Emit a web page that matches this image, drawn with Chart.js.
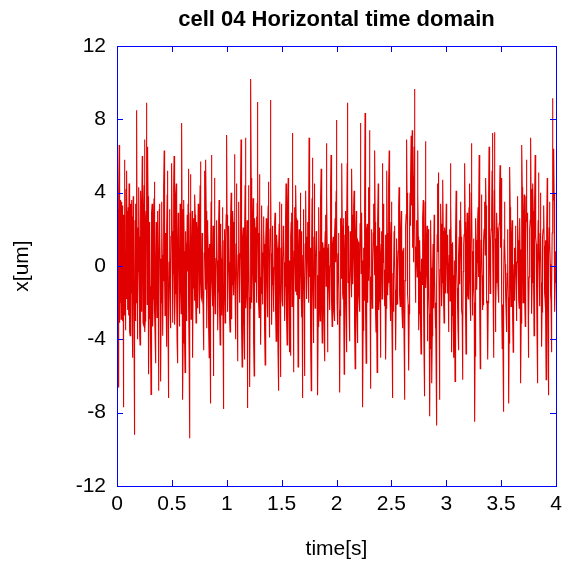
<!DOCTYPE html>
<html>
<head>
<meta charset="utf-8">
<script src="https://cdn.jsdelivr.net/npm/chart.js@4/dist/chart.umd.min.js"></script>
<style>
  html, body { margin: 0; padding: 0; background: #fff; }
  #wrap { width: 563px; height: 566px; }
</style>
</head>
<body>
<div id="wrap"><canvas id="myChart" width="563" height="566"></canvas></div>
<script>
let dt = 0.0025;
let xUm = [
  -1.2, 3.1, 0.9, -3.4, -6.6, -1.2, 1.4, 4.0, 6.6, 0.8, -3.1, 2.5, -2.0, 3.6, 2.2, -2.9, 3.5, -2.2, -0.6, 3.3, -3.0, -1.0, 2.8, -4.1, -7.7, 2.0, -1.9, 3.9, 5.8, -2.7, 0.4, -3.5, -1.5, 4.2, 3.3, -1.8, 5.2, 0.6, -2.4, 3.0,
  0.8, 3.2, -2.7, 1.1, 4.5, -2.4, 1.0, -3.6, -3.8, 1.9, -0.5, 3.4, 2.1, -1.5, 3.6, -2.1, -5.0, 2.7, -1.2, 3.8, 3.0, -0.9, -3.4, -4.5, -9.2, -2.2, 2.5, -3.0, 1.2, 3.4, -2.0, 4.0, 8.5, 2.1, -1.1, -4.0, -2.5, -0.3, 1.7, 3.5,
  4.3, 1.6, -0.8, -3.7, -4.3, -0.6, 2.6, 4.1, 1.8, -2.5, -2.2, 2.6, 6.0, 3.2, 0.7, -3.1, -3.2, 0.5, 2.9, 4.4, 6.9, 1.8, -3.6, -3.0, -1.4, 2.4, 3.0, 4.9, 8.9, 2.7, -2.1, 1.9, 6.5, 3.8, 0.3, -2.8, -5.9, -1.6, 2.4, -2.9,
  2.2, -1.1, -3.0, -4.4, -7.0, -2.6, 1.1, 2.9, 3.4, 1.4, -1.6, -3.3, -1.8, 1.0, 2.3, 3.7, 4.6, 1.2, -2.5, -4.0, -5.3, -2.1, 0.5, 2.4, 0.6, -1.5, -2.8, 0.9, 3.0, 2.6, -0.9, -3.9, -6.8, -1.8, 3.1, 3.4, 1.9, 0.4, -1.4, -3.6,
  -6.3, -2.0, 1.3, 3.5, 2.7, 0.6, -2.6, -3.8, -0.8, 1.5, 3.2, 4.3, 6.3, 2.2, -0.4, -2.7, -2.4, -0.5, 1.8, -1.9, -4.4, -0.7, 2.0, 3.9, 5.2, 1.0, -3.3, -4.6, -7.2, -2.8, 0.2, 2.5, 3.1, 0.7, -2.7, -3.4, -1.0, 1.6, 2.9, 3.8,
  5.6, 1.9, -1.0, -3.1, -2.9, -0.4, 2.4, 4.2, 6.0, 2.3, -0.7, -3.2, -1.5, 0.8, 2.8, 3.9, 4.5, 1.1, -2.0, -4.1, -5.3, -1.9, 0.9, 2.9, 2.0, 0.4, -1.2, -3.0, -3.3, -0.2, 3.4, 2.1, 1.1, -1.4, -2.6, 2.4, 7.8, 3.1, 0.1, -3.9,
  -7.3, -4.2, -1.5, 1.2, 3.6, 0.8, -2.4, -4.3, -5.8, -1.8, 1.9, 1.4, 0.9, -1.3, -3.0, -0.3, 2.8, 1.7, -0.3, 3.4, 5.3, 1.6, -2.2, -5.0, -9.4, -3.6, 0.8, 2.9, 5.0, 1.4, -2.9, -2.7, -1.7, 1.0, 3.0, -1.4, -5.0, -1.2, 1.5, 2.6,
  2.3, 0.3, -1.9, 1.5, 3.9, 2.8, 0.6, -1.6, -3.1, -0.4, 2.1, 2.4, 1.4, -0.9, -2.3, 1.0, 3.4, 2.5, 0.4, -1.3, -2.6, 0.2, 2.7, 4.4, 5.7, 2.6, -0.9, -1.7, -1.8, 0.1, 1.8, 1.6, 0.5, -1.2, -2.4, -4.0, -4.6, -2.2, 0.7, 3.2,
  5.2, 2.0, -1.3, 2.4, 5.8, 3.0, 0.2, -1.6, -3.4, -0.5, 2.5, 2.0, 1.0, -0.4, -1.7, -3.4, -5.0, -1.8, 1.2, -3.1, -7.5, -3.3, 0.3, 3.5, 6.05, 2.6, -0.8, -1.5, -2.2, 0.1, 2.2, -1.9, -6.0, -3.2, -0.5, 2.1, 4.8, 1.0, -2.6, -2.0,
  -1.2, 0.4, 1.6, 2.2, 2.5, 0.3, -1.8, -2.7, -3.5, -1.4, 0.9, 2.4, 3.6, 1.3, -0.7, -2.6, -4.3, -0.9, 2.3, 1.5, 0.4, -1.3, -2.7, 0.3, 3.2, 1.2, -1.0, -4.3, -7.8, -3.0, 1.4, 1.8, 2.0, -0.6, -3.1, -1.7, -0.2, 1.4, 2.8, 4.9,
  7.15, 2.8, -1.4, -2.1, -2.5, -0.3, 1.9, 2.1, 2.2, 0.2, -2.2, -2.9, -3.6, -1.4, 0.8, 2.5, 4.0, 0.7, -2.9, -2.0, -1.0, 1.1, 3.0, 2.3, 1.8, 0.1, -1.6, 2.4, 6.1, 2.9, -0.3, -2.1, -4.0, -1.4, 1.2, 2.9, 4.5, 1.3, -1.8, -3.5,
  -5.2, -2.1, 0.6, 2.2, 3.5, 0.7, -2.0, -1.8, -1.5, 0.5, 2.4, 4.6, 6.9, 2.8, -1.1, -3.3, -5.5, -2.3, 0.9, 1.6, 2.1, -0.4, -2.6, -3.9, -5.1, -1.6, 1.7, 4.4, 7.0, 2.2, -2.3, -1.6, -0.8, 0.9, 2.5, -2.6, -7.75, -3.6, 0.4, 2.3,
  4.4, 1.3, -1.7, -4.1, -6.6, -2.3, 2.1, 5.9, 10.2, 4.8, 0.5, -0.8, -2.0, -0.4, 1.3, 2.4, 3.7, 0.6, -2.4, -4.2, -6.0, -1.8, 2.6, 2.1, 1.5, 0.3, -0.9, 0.9, 2.7, 0.4, -2.0, 3.4, 8.95, 5.2, 1.8, 0.4, -1.1, -2.0, -2.8, 1.1,
  5.0, 2.2, -0.6, -2.5, -4.3, -1.5, 1.4, 2.4, 3.3, 0.6, -2.1, -1.8, -1.4, 0.7, 2.7, 2.0, 1.2, -0.3, -1.5, -3.5, -5.4, -2.6, 0.2, 1.4, 2.6, 1.1, -0.4, -1.6, -2.8, -0.5, 1.9, 3.3, 4.6, 1.7, -1.2, -2.6, -3.9, -0.9, 2.0, 5.5,
  9.05, 4.6, 0.7, -1.3, -3.2, -1.0, 1.1, 1.8, 2.2, -0.2, -2.5, -2.3, -1.9, -0.1, 1.5, 2.3, 2.9, 1.0, -0.8, -2.5, -4.1, -1.2, 1.7, 1.5, 1.0, -0.9, -2.7, -4.8, -6.8, -2.9, 0.9, 2.3, 3.5, 1.0, -1.4, -3.8, -6.05, -2.5, 1.0, 2.3,
  3.4, 0.6, -1.9, -2.2, -2.0, 0.1, 2.2, 2.0, 1.5, 0.2, -1.3, -2.3, -3.0, -1.1, 0.6, 2.6, 4.5, 1.7, -1.0, -2.8, -4.3, -1.2, 1.8, 3.4, 4.8, 2.0, -0.5, -2.7, -4.7, -2.0, 0.3, -2.4, -4.9, -1.5, 1.6, 2.4, 2.9, 0.3, -2.2, 2.4,
  7.25, 3.4, -0.2, -3.1, -5.8, -2.6, 0.8, 2.1, 3.2, 0.9, -1.4, 1.6, 4.4, 2.6, 0.9, -0.5, -1.6, 0.5, 2.5, -1.5, -5.5, -3.2, -0.7, 0.8, 2.0, 0.1, -1.8, 1.2, 4.0, 2.3, 0.5, -1.2, -2.8, -0.4, 1.9, -2.8, -7.2, -3.2, 0.6, 2.0,
  3.1, 0.4, -2.1, -4.0, -6.0, -2.4, 1.2, 2.7, 4.1, 1.6, -1.0, -1.5, -1.8, 0.3, 2.3, 2.4, 2.4, 0.2, -2.0, 2.6, 7.0, 3.1, -0.6, 0.2, 1.0, -0.7, -2.4, -4.6, -6.8, -2.7, 1.4, 3.7, 5.9, 2.5, -0.8, -2.5, -4.2, -1.3, 1.6, 3.1,
  4.5, 1.1, -2.3, -1.7, -1.1, 0.4, 1.9, 1.8, 1.7, -0.5, -2.6, -4.8, -7.05, -3.3, 0.4, 1.8, 3.2, 0.8, -1.5, -2.3, -3.0, -0.4, 2.1, 3.7, 5.3, 2.4, -0.4, -2.3, -4.2, -1.4, 1.3, 1.0, 0.7, -0.8, -2.2, -3.7, -5.2, -2.1, 0.9, 1.9,
  2.8, 0.8, -1.1, 2.8, 6.7, 3.9, 1.0, -1.9, -4.7, -2.8, -0.9, 0.2, 1.2, -0.4, -2.0, -2.2, -2.4, 0.0, 2.4, 4.2, 6.05, 2.8, -0.5, -1.9, -3.3, -1.3, 0.8, 1.2, 1.6, -0.4, -2.3, -2.6, -3.0, -0.7, 1.7, 2.6, 3.5, 1.9, 0.2, 4.1,
  7.96, 3.0, -1.8, -2.5, -3.2, -1.3, 0.7, 1.2, 1.8, -0.3, -2.4, -4.6, -6.9, -2.7, 1.5, 2.0, 2.6, 1.0, -0.7, 2.4, 5.6, 2.2, -1.3, -1.5, -1.8, 0.4, 2.6, -1.6, -5.9, -2.8, 0.4, 1.7, 3.0, 0.7, -1.6, -3.2, -4.7, -1.2, 2.2, 5.6,
  8.9, 3.9, -0.9, 0.7, 2.2, -0.1, -2.5, -3.4, -4.1, -1.1, 1.9, 1.4, 0.8, -0.5, -1.7, 1.8, 5.3, 2.8, 0.3, -0.4, -1.0, 0.5, 2.0, 3.2, 4.1, 1.5, -1.2, -3.4, -5.6, -2.4, 0.8, 1.9, 3.0, 0.5, -2.0, -3.1, -4.2, -1.4, 1.4, 1.3,
  1.2, -0.2, -1.6, -2.1, -2.5, -0.1, 2.3, 5.0, 7.8, 3.6, -0.4, 1.3, 2.9, 0.3, -2.2, -4.9, -7.7, -3.5, 0.6, 0.8, 1.0, -0.5, -1.9, 3.2, 8.35, 4.1, 0.2, -2.6, -5.3, -1.8, 1.6, 2.0, 2.3, 0.1, -2.0, 1.2, 4.3, 1.8, -0.8, 3.3,
  7.4, 4.1, 0.9, -2.9, -6.7, -3.6, -0.6, 0.7, 2.0, -0.1, -2.3, -1.9, -1.5, 0.2, 1.8, 2.6, 3.4, 1.4, -0.5, 2.9, 6.3, 2.4, -1.5, -2.6, -3.6, -1.2, 1.1, -2.3, -5.8, -2.6, 0.5, 2.5, 4.5, 1.0, -2.4, -1.9, -1.3, 0.4, 2.1, -1.4,
  -5.0, -2.3, 0.4, 1.2, 1.9, 0.1, -1.8, 1.9, 5.6, 2.9, 0.2, 1.8, 3.4, 1.2, -1.1, -1.7, -2.2, -0.2, 1.7, -1.7, -5.1, -2.3, 0.5, 2.9, 5.2, 1.8, -1.6, -1.3, -0.9, 0.8, 2.4, 4.4, 6.3, 3.0, -0.2, -1.6, -3.0, -0.8, 1.3, 2.4,
  3.5, 0.7, -2.0, -4.6, -7.2, -3.8, -0.4, -1.5, -2.5, -0.3, 1.9, 2.1, 2.2, 0.4, -1.3, -3.0, -4.6, -2.1, 0.5, 1.0, 1.5, -0.3, -2.1, -1.3, -0.5, 0.8, 2.0, 3.2, 4.3, 1.7, -0.9, -1.6, -2.2, -0.5, 1.2, 2.1, 3.0, 0.6, -1.7, -2.6,
  -3.4, -1.3, 0.7, 0.9, 1.0, -0.6, -2.2, -4.9, -7.3, -4.0, -0.8, 0.4, 1.5, 2.2, 2.8, 4.6, 6.9, 4.0, 1.2, -0.2, -1.5, -2.1, -2.4, -4.1, -5.7, -2.6, 0.6, 2.3, 4.0, 3.0, 2.2, 4.8, 7.1, 5.1, 3.3, 5.4, 7.4, 4.0, 1.0, 4.9,
  0.2, 1.9, 3.4, 6.5, 9.65, 5.7, 2.5, 0.1, -2.0, -0.5, 0.9, 1.8, 2.5, 0.8, -0.6, 2.9, 6.3, 4.0, 1.6, -1.0, -3.5, -2.6, -1.4, 0.1, 1.4, -0.3, -1.9, -3.4, -4.8, -2.2, 0.4, -0.4, -1.0, 0.3, 1.5, 2.6, 3.6, 0.5, -2.5, -4.8,
  -7.1, -3.4, 0.3, 3.5, 6.8, 2.8, -1.2, -0.4, 0.5, 1.4, 2.2, -0.9, -4.1, -2.6, -1.0, 0.5, 2.0, -0.3, -2.6, -5.4, -8.2, -4.5, -0.7, 0.9, 2.5, -0.1, -2.8, -4.6, -6.4, -3.8, -1.2, -0.1, 1.2, -0.6, -2.3, 0.2, 2.8, 1.1, -0.5, -2.0,
  -3.4, -2.9, -2.0, -5.3, -8.7, -4.9, -1.1, 1.7, 4.5, 2.6, 0.8, 2.9, 5.1, 1.8, -1.6, -4.4, -7.3, -3.8, -0.2, 1.6, 3.4, 2.3, 1.3, -0.5, -2.2, -0.9, 0.4, 2.5, 4.7, 1.9, -0.9, -2.0, -3.1, -0.5, 2.1, 2.0, 1.8, 0.1, -1.5, 1.0,
  3.4, 1.9, 0.5, -0.5, -1.5, 0.1, 1.7, -1.0, -3.6, -2.2, -0.8, 0.6, 2.0, 0.1, -1.9, 1.9, 5.6, 3.4, 1.2, -1.8, -4.7, -2.7, -0.6, 0.4, 1.3, -0.5, -2.2, -3.6, -5.0, -2.4, 0.3, -3.0, -6.3, -3.5, -0.8, 1.7, 4.1, 2.5, 0.9, -0.2,
  -1.2, -1.8, -2.4, -3.5, -4.6, -2.0, 0.6, 1.6, 2.5, 0.8, -1.0, 1.2, 3.5, 2.6, 1.6, -0.2, -2.0, -2.4, -2.7, -4.4, -6.2, -3.3, -0.3, 0.4, 1.1, 1.7, 2.3, 4.0, 5.6, 2.4, -0.8, -2.8, -4.8, -2.5, -0.1, 1.4, 2.9, 0.8, -1.4, -1.6,
  -1.8, 0.1, 1.9, 3.2, 4.5, 2.0, -0.5, -1.8, -3.0, -1.0, 1.0, 3.8, 6.7, 3.7, 0.8, -1.0, -2.7, -1.8, -0.9, 0.3, 1.5, -0.2, -2.0, -5.2, -8.5, -4.9, -1.4, 0.6, 2.6, 1.4, 0.2, -0.6, -1.3, 0.2, 1.7, 2.5, 3.2, 1.3, -0.6, 2.7,
  6.05, 3.2, 0.4, -2.6, -5.6, -3.4, -1.1, 1.4, 3.9, 2.6, 1.4, -0.5, -2.4, -2.3, -2.1, -0.7, 0.8, 1.4, 2.0, 2.8, 3.5, 2.0, 0.6, 2.7, 4.8, 3.3, 1.8, -0.1, -2.0, -2.0, -1.9, -3.5, -5.1, -2.0, 1.1, 3.8, 6.5, 4.5, 2.5, 0.5,
  -1.5, -0.4, 0.8, 1.4, 2.0, 2.6, 3.1, 5.2, 7.25, 4.2, 1.2, -1.9, -5.0, -2.0, 0.9, 4.1, 7.3, 4.4, 1.5, -1.1, -3.6, -2.3, -0.9, 1.0, 2.9, 2.1, 1.4, 0.4, -0.6, -1.3, -2.0, -0.1, 1.8, 2.3, 2.7, 4.1, 5.5, 3.3, 1.0, 2.9,
  4.8, 2.5, 0.3, -2.1, -4.5, -3.3, -2.1, -5.0, -7.95, -4.5, -1.0, 1.3, 3.5, 2.3, 1.2, 0.1, -1.0, -1.7, -2.4, -3.0, -3.6, -2.0, -0.4, 0.8, 2.0, 0.2, -1.7, -4.6, -7.5, -4.2, -0.8, 2.3, 5.4, 3.2, 1.1, -0.6, -2.2, -0.8, 0.6, 1.5,
  2.5, 0.7, -1.0, -2.9, -4.7, -2.8, -0.8, 0.1, 1.0, -0.5, -1.9, 0.2, 2.2, 1.7, 1.1, -1.0, -3.0, -1.4, 0.2, 2.0, 3.8, 2.6, 1.4, 0.0, -1.5, -1.9, -2.3, 0.2, 2.6, 0.9, -0.9, -3.7, -6.4, -3.1, 0.3, 3.5, 6.6, 4.3, 1.9, 0.0,
  -2.0, -0.4, 1.2, 2.6, 3.9, 1.8, -0.4, -1.9, -3.3, -0.8, 1.7, 3.8, 5.8, 4.1, 2.4, 2.6, 2.9, 0.8, -1.3, -3.2, -5.0, -2.8, -0.6, 0.4, 1.4, 2.0, 2.5, 4.8, 7.0, 4.2, 1.3, -0.7, -2.6, -0.9, 0.8, 2.7, 4.5, 3.0, 1.6, -1.1,
  -3.8, -1.5, 0.9, 3.5, 6.05, 4.0, 2.0, 1.6, 1.2, -0.2, -1.6, -4.0, -6.4, -3.3, -0.1, 2.5, 5.1, 2.9, 0.7, -0.8, -2.2, -0.2, 1.8, 2.9, 4.0, 1.6, -0.9, -2.7, -4.4, -2.5, -0.5, 0.6, 1.6, 2.0, 2.4, 2.9, 3.3, 1.1, -1.1, -1.5,
  -1.8, -0.2, 1.4, -2.4, -6.2, -3.6, -0.9, 2.0, 4.8, 1.8, -1.2, -4.1, -7.05, -3.2, 0.6, 2.1, 3.5, 2.4, 1.3, 0.1, -1.2, -1.6, -2.0, -3.4, -4.7, -1.5, 1.8, 5.5, 9.15, 6.4, 3.6, 5.0, 6.4, 4.0, 1.5, -0.5, -2.5, -0.9, 0.8, 0.1,
  -0.7
];
let xTicks = [0, 0.5, 1, 1.5, 2, 2.5, 3, 3.5, 4];
let yTicks = [-12, -8, -4, 0, 4, 8, 12];

let points = xUm.map((v, i) => ({ x: +(i * dt).toFixed(4), y: v }));

let fontFamily = '"Liberation Sans", Arial, Helvetica, sans-serif';
let boxBlue = '#0000ff';

// box round the plot with inward ticks on all four sides
let frame = {
  id: 'frame',
  afterDatasetsDraw(chart) {
    let { ctx, chartArea: a, scales } = chart;
    let len = 6;
    ctx.save();
    ctx.strokeStyle = boxBlue;
    ctx.lineWidth = 1;
    ctx.beginPath();
    xTicks.forEach(t => {
      let px = Math.round(scales.x.getPixelForValue(t)) + 0.5;
      ctx.moveTo(px, a.bottom); ctx.lineTo(px, a.bottom - len);
      ctx.moveTo(px, a.top); ctx.lineTo(px, a.top + len);
    });
    yTicks.forEach(t => {
      let py = Math.round(scales.y.getPixelForValue(t)) + 0.5;
      ctx.moveTo(a.left, py); ctx.lineTo(a.left + len, py);
      ctx.moveTo(a.right, py); ctx.lineTo(a.right - len, py);
    });
    ctx.stroke();
    ctx.strokeRect(Math.round(a.left) + 0.5, Math.round(a.top) + 0.5,
      Math.round(a.right - a.left), Math.round(a.bottom - a.top));
    ctx.restore();
  }
};

let ctx = document.getElementById('myChart').getContext('2d');
let myChart = new Chart(ctx, {
  type: 'line',
  data: {
    datasets: [{
      data: points,
      borderColor: 'rgb(224,0,0)',
      borderWidth: 1.1,
      pointRadius: 0,
      tension: 0,
      fill: false
    }]
  },
  options: {
    responsive: false,
    animation: false,
    layout: { padding: { left: 0, right: 7, top: 0, bottom: 0 } },
    plugins: {
      legend: { display: false },
      tooltip: { enabled: false },
      title: {
        display: true,
        text: 'cell 04 Horizontal time domain',
        color: '#000',
        fullSize: false,
        font: { family: fontFamily, size: 22, weight: 'bold' },
        padding: { top: 7, bottom: 12.6 }
      }
    },
    scales: {
      x: {
        type: 'linear',
        min: 0,
        max: 4,
        afterBuildTicks: s => { s.ticks = xTicks.map(v => ({ value: v })); },
        afterFit: s => { s.height = 80; s.paddingRight = 0; s.paddingLeft = 0; },
        grid: { display: false, drawTicks: false },
        border: { display: false },
        ticks: {
          color: '#000',
          padding: 6,
          maxRotation: 0,
          font: { family: fontFamily, size: 21 },
          callback: v => String(v)
        },
        title: {
          display: true,
          text: 'time[s]',
          color: '#000',
          font: { family: fontFamily, size: 21 },
          padding: { top: 0, bottom: 4.4 }
        }
      },
      y: {
        min: -12,
        max: 12,
        afterBuildTicks: s => { s.ticks = yTicks.map(v => ({ value: v })); },
        afterFit: s => { s.width = 117; },
        grid: { display: false, drawTicks: false },
        border: { display: false },
        ticks: {
          color: '#000',
          padding: 11,
          font: { family: fontFamily, size: 21 },
          callback: v => String(v)
        },
        title: {
          display: true,
          text: 'x[um]',
          color: '#000',
          font: { family: fontFamily, size: 21 },
          padding: { top: 9.5, bottom: 0 }
        }
      }
    }
  },
  plugins: [frame]
});
</script>
</body>
</html>
